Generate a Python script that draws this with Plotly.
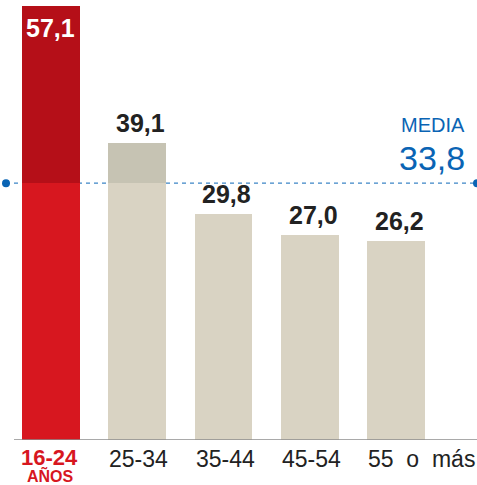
import plotly.graph_objects as go

categories = ["16-24", "25-34", "35-44", "45-54", "55 o más"]
values = [57.1, 39.1, 29.8, 27.0, 26.2]
value_labels = ["57,1", "39,1", "29,8", "27,0", "26,2"]
media = 33.8
media_label = "33,8"
highlight_sub = "AÑOS"

RED_LOW, RED_HIGH = "#d7171f", "#b50f18"
GREY_LOW, GREY_HIGH = "#d9d3c3", "#c6c3b3"
BLUE = "#0a64b4"
FONT = "Liberation Sans, Arial, Helvetica, sans-serif"

x = list(range(len(categories)))
low = [min(v, media) for v in values]
high = [max(v - media, 0) for v in values]
low_colors = [RED_LOW if i == 0 else GREY_LOW for i in x]
high_colors = [RED_HIGH if i == 0 else GREY_HIGH for i in x]
W = 0.672

fig = go.Figure()
fig.add_bar(x=x, y=low, width=W, marker=dict(color=low_colors, line_width=0), hoverinfo="skip")
fig.add_bar(x=x, y=high, width=W, marker=dict(color=high_colors, line_width=0), hoverinfo="skip")

ann = []
for i, (v, t) in enumerate(zip(values, value_labels)):
    if i == 0:
        ann.append(dict(x=i, y=v, text=f"<b>{t}</b>", showarrow=False, yanchor="top", yshift=-6,
                        font=dict(family=FONT, size=25, color="white")))
    else:
        ann.append(dict(x=i + 0.04, y=v, text=f"<b>{t}</b>", showarrow=False, yanchor="bottom", yshift=4,
                        font=dict(family=FONT, size=25, color="#222222")))

# category labels
for i, c in enumerate(categories):
    if i == 0:
        ann.append(dict(x=i - 0.02, y=0, text=f"<b>{c}</b>", showarrow=False, yanchor="top", yshift=-4,
                        borderpad=0, font=dict(family=FONT, size=22, color=RED_LOW)))
        ann.append(dict(x=i, y=0, text=f"<b>{highlight_sub}</b>", showarrow=False, yanchor="top", yshift=-25,
                        borderpad=0, font=dict(family=FONT, size=16, color=RED_LOW)))
    else:
        txt = c.replace(" ", "\u00a0\u00a0")
        ann.append(dict(x=i - W / 2 - 0.01, y=0, text=txt, showarrow=False, xanchor="left", yanchor="top", yshift=-4,
                        font=dict(family=FONT, size=23, color="#222222")))

ann.append(dict(x=0.98, xref="paper", y=media, text="MEDIA", showarrow=False, xanchor="right", yanchor="bottom",
                yshift=45, font=dict(family=FONT, size=20, color=BLUE)))
ann.append(dict(x=0.98, xref="paper", y=media, text=media_label, showarrow=False, xanchor="right", yanchor="bottom",
                yshift=4, font=dict(family=FONT, size=34, color=BLUE)))

shapes = [
    dict(type="line", xref="paper", yref="y", x0=14 / 477, x1=1, y0=0, y1=0,
         line=dict(color="#8c8c8c", width=1.5), layer="above"),
    dict(type="line", xref="paper", yref="y", x0=6 / 477, x1=1, y0=media, y1=media,
         line=dict(color="#3d85c6", width=1.3, dash="4px,4px"), layer="below"),
    dict(type="circle", xref="paper", yref="y", xsizemode="pixel", ysizemode="pixel",
         xanchor=6 / 477, yanchor=media, x0=-4, x1=4, y0=-4, y1=4,
         fillcolor=BLUE, line_width=0, layer="above"),
    dict(type="circle", xref="paper", yref="y", xsizemode="pixel", ysizemode="pixel",
         xanchor=1, yanchor=media, x0=-4, x1=4, y0=-4, y1=4,
         fillcolor=BLUE, line_width=0, layer="above"),
]

fig.update_layout(
    width=477, height=485,
    margin=dict(l=0, r=0, t=0, b=45),
    barmode="stack",
    showlegend=False,
    plot_bgcolor="white", paper_bgcolor="white",
    xaxis=dict(range=[-0.591, 4.939], visible=False, fixedrange=True),
    yaxis=dict(range=[0, 57.9], visible=False, fixedrange=True),
    annotations=ann,
    shapes=shapes,
)

fig.write_html("out.html", config={"displayModeBar": False},
               post_script="document.body.style.margin='0';document.body.style.padding='0';document.body.style.overflow='hidden';")
